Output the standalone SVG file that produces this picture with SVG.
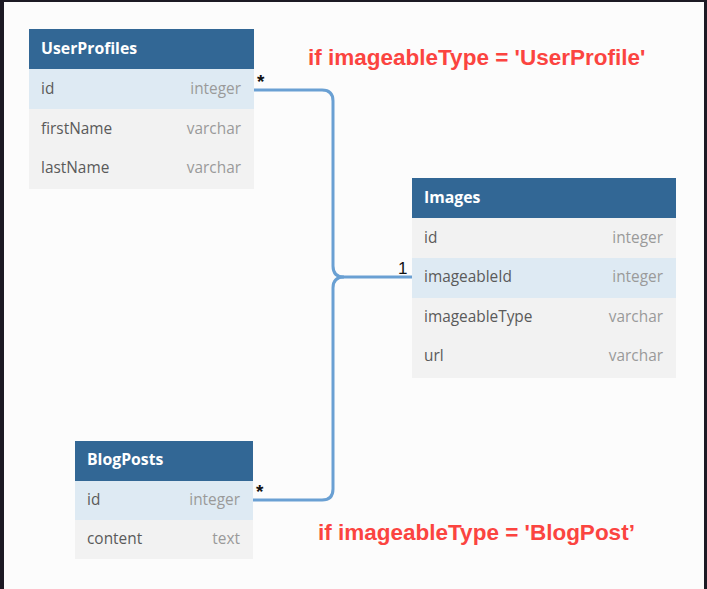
<svg xmlns="http://www.w3.org/2000/svg" width="707" height="589" viewBox="0 0 707 589">
<style>
.hdr{fill:#326795}
.row{fill:#f2f2f2}
.rowk{fill:#deeaf3}
.tname{font-family:"Open Sans","Noto Sans",sans-serif;font-weight:bold;font-size:15.8px;fill:#ffffff}
.fname{font-family:"Open Sans","Noto Sans",sans-serif;font-size:15.4px;fill:#5a5a5a}
.ftype{font-family:"Open Sans","Noto Sans",sans-serif;font-size:15.4px;fill:#9a9a9a;text-anchor:end}
.conn{fill:none;stroke:#6aa0d3;stroke-width:3}
.card{font-family:"Liberation Sans",Arial,sans-serif;font-size:17px;fill:#111}
.star{font-family:"Liberation Sans",Arial,sans-serif;font-size:19px;font-weight:bold;fill:#111}
.note{font-family:"Liberation Sans",Arial,sans-serif;font-size:22.5px;font-weight:bold;fill:#fb4440}
</style>
<rect x="0" y="0" width="707" height="589" fill="#1c1a24"/>
<rect x="4" y="2" width="700" height="587" fill="#fcfcfc"/>

<g id="connectors">
<path class="conn" d="M254,90 H322 Q333,90 333,101 V266 Q333,277 344,277 H412"/>
<path class="conn" d="M253,500 H322 Q333,500 333,489 V288 Q333,277 344,277"/>
<text class="star" x="257" y="88">*</text>
<text class="card" x="398" y="274">1</text>
<text class="star" x="256" y="498">*</text>
</g>

<g id="UserProfiles">
<rect class="hdr" x="29" y="29" width="225" height="40"/>
<rect class="rowk" x="29" y="69" width="225" height="40"/>
<rect class="row" x="29" y="109" width="225" height="80"/>
<text class="tname" x="41" y="54">UserProfiles</text>
<text class="fname" x="41" y="94">id</text><text class="ftype" x="241" y="94">integer</text>
<text class="fname" x="41" y="134">firstName</text><text class="ftype" x="241" y="134">varchar</text>
<text class="fname" x="41" y="173">lastName</text><text class="ftype" x="241" y="173">varchar</text>
</g>

<g id="Images">
<rect class="hdr" x="412" y="178" width="264" height="40"/>
<rect class="row" x="412" y="218" width="264" height="40"/>
<rect class="rowk" x="412" y="258" width="264" height="40"/>
<rect class="row" x="412" y="298" width="264" height="80"/>
<text class="tname" x="424" y="203">Images</text>
<text class="fname" x="424" y="243">id</text><text class="ftype" x="663" y="243">integer</text>
<text class="fname" x="424" y="282">imageableId</text><text class="ftype" x="663" y="282">integer</text>
<text class="fname" x="424" y="322">imageableType</text><text class="ftype" x="663" y="322">varchar</text>
<text class="fname" x="424" y="361">url</text><text class="ftype" x="663" y="361">varchar</text>
</g>

<g id="BlogPosts">
<rect class="hdr" x="75" y="441" width="178" height="40"/>
<rect class="rowk" x="75" y="481" width="178" height="39"/>
<rect class="row" x="75" y="520" width="178" height="39"/>
<text class="tname" x="87" y="465">BlogPosts</text>
<text class="fname" x="87" y="505">id</text><text class="ftype" x="240" y="505">integer</text>
<text class="fname" x="87" y="544">content</text><text class="ftype" x="240" y="544">text</text>
</g>

<g id="notes">
<text class="note" x="308" y="65">if imageableType = 'UserProfile'</text>
<text class="note" x="318" y="540">if imageableType = 'BlogPost’</text>
</g>
</svg>
